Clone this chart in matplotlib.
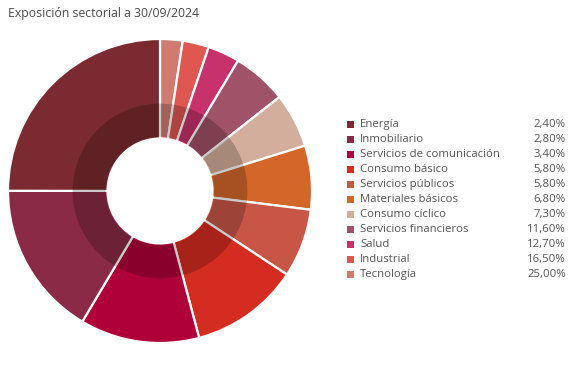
import matplotlib
matplotlib.use("Agg")
import matplotlib.pyplot as plt
from matplotlib.patches import Wedge, Rectangle

# legend order
categories = ["Energía", "Inmobiliario", "Servicios de comunicación", "Consumo básico",
              "Servicios públicos", "Materiales básicos", "Consumo cíclico",
              "Servicios financieros", "Salud", "Industrial", "Tecnología"]
values = [2.40, 2.80, 3.40, 5.80, 5.80, 6.80, 7.30, 11.60, 12.70, 16.50, 25.00]
colors = ["#7A2A30", "#8A2A46", "#B0003A", "#D42C20", "#C85646", "#D4662A",
          "#D4AE9C", "#A05268", "#C8326A", "#E05650", "#D07A70"]
labels_pct = ["2,40%", "2,80%", "3,40%", "5,80%", "5,80%", "6,80%", "7,30%",
              "11,60%", "12,70%", "16,50%", "25,00%"]

plt.rcParams['font.family'] = ['Open Sans', 'DejaVu Sans']
W, H = 582, 381
fig = plt.figure(figsize=(W / 100, H / 100), dpi=100)

# donut
ax = fig.add_axes([8 / W, 38 / H, 304 / W, 304 / H])
hole = 0.345
ax.pie(values, colors=colors[::-1], startangle=90, counterclock=False, radius=1,
       wedgeprops=dict(width=1 - hole, edgecolor="white", linewidth=1.6))
ax.add_patch(Wedge((0, 0), 0.575, 0, 360, width=0.575 - hole - 0.012,
                   facecolor="black", alpha=0.21, linewidth=0))
ax.set_xlim(-1, 1)
ax.set_ylim(-1, 1)
ax.set_aspect("equal")
ax.axis("off")

fig.text(8 / W, 1 - 14 / H, "Exposición sectorial a 30/09/2024", fontsize=8.8,
         color="#4a4a4a", va="center", ha="left")

# legend
y0, dy = 124.5, 15
for i, (cat, col, pct) in enumerate(zip(categories, colors, labels_pct)):
    y = y0 + i * dy
    fig.patches.append(Rectangle((347 / W, 1 - (y + 3.5) / H), 7 / W, 7 / H,
                                 transform=fig.transFigure, facecolor=col, edgecolor="none"))
    fig.text(360 / W, 1 - y / H, cat, fontsize=8.2, color="#555555", va="center", ha="left")
    fig.text(566 / W, 1 - y / H, pct, fontsize=8.2, color="#555555", va="center", ha="right")

fig.savefig("out.png", dpi=100)
